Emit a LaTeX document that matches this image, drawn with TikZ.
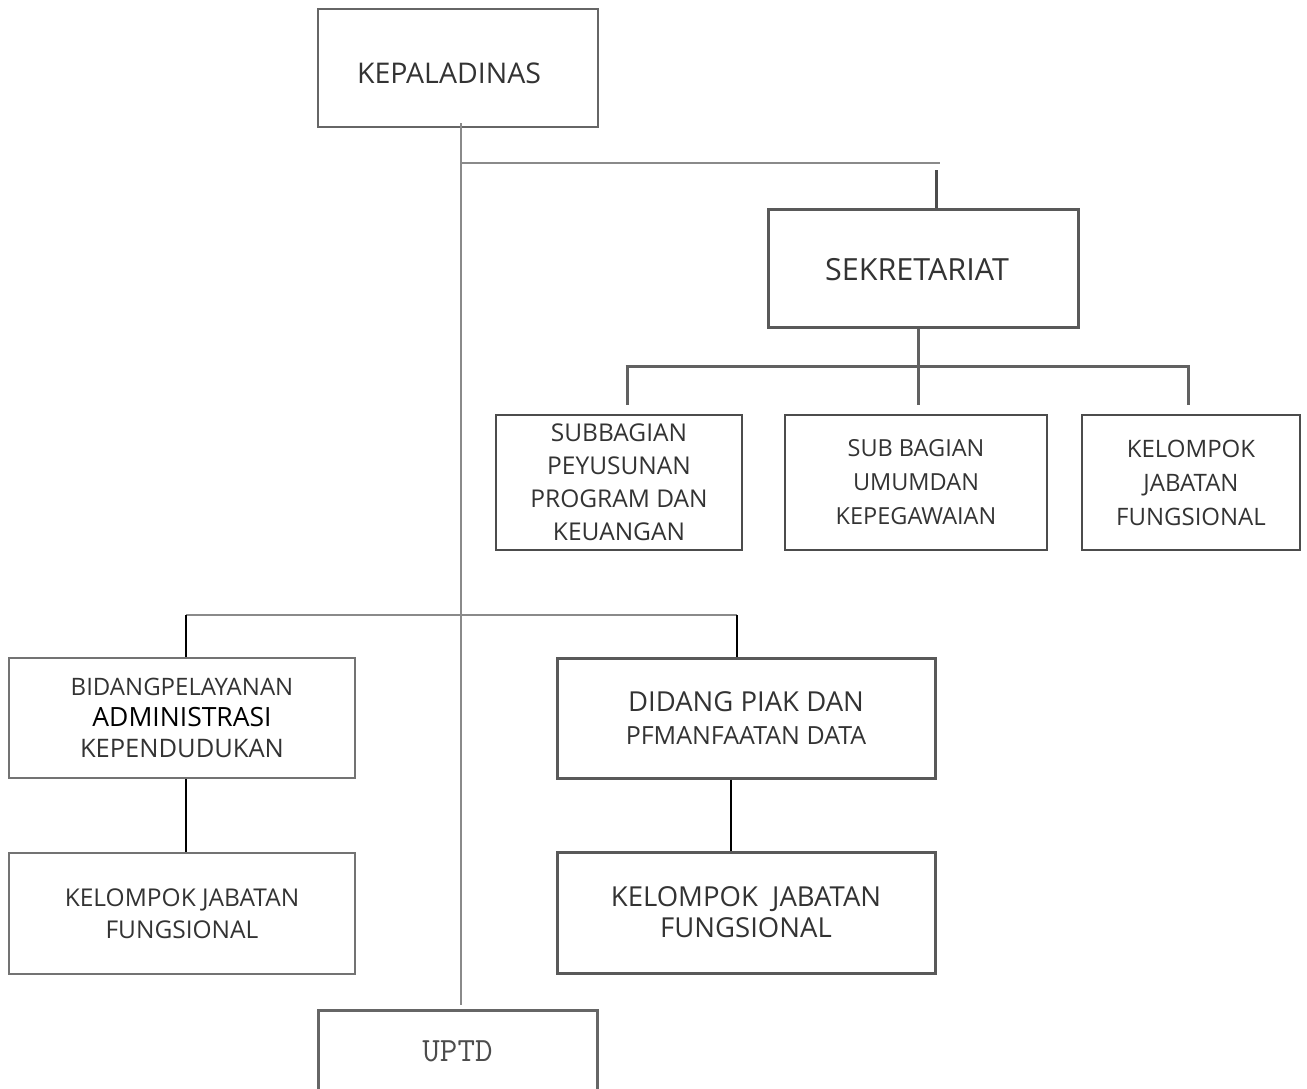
\documentclass[tikz,border=0pt]{standalone}
\usepackage{fontspec}
\setmainfont{Open Sans}
\definecolor{txt}{HTML}{333333}
\definecolor{frame}{HTML}{666666}
\definecolor{spinegray}{HTML}{8A8A8A}
\begin{document}
\begin{tikzpicture}[x=1pt,y=-1pt,
  box/.style={draw=frame, line width=1.5pt, align=center, inner sep=0pt, text=txt},
  heavybox/.style={box, draw=black!65, line width=3pt},
  subbox/.style={box, draw=black!70, line width=2pt},
  spine/.style={draw=spinegray, line width=1.2pt},
  sekline/.style={draw=black!62, line width=3pt},
  darkline/.style={draw=black, line width=1.6pt}
]
\useasboundingbox (0,0) rectangle (1307,1088);

% nodes
\node[box, minimum width=280, minimum height=118, font=\fontsize{28.5}{32}\selectfont] (kepala) at (458,68) {\raisebox{-5pt}[\height][\depth]{KEPALADINAS\hspace{18pt}}};
\node[heavybox, minimum width=310, minimum height=118, font=\fontsize{30.5}{34}\selectfont] (sek) at (923,268) {\raisebox{-2pt}[\height][\depth]{SEKRETARIAT\hspace{12pt}}};

\node[subbox, minimum width=246, minimum height=135, font=\fontsize{24.5}{33}\selectfont] (sb1) at (619,482.5) {SUBBAGIAN\\PEYUSUNAN\\PROGRAM DAN\\KEUANGAN};
\node[subbox, minimum width=262, minimum height=135, font=\fontsize{23.5}{34}\selectfont] (sb2) at (916,482.5) {SUB BAGIAN\\UMUMDAN\\KEPEGAWAIAN};
\node[subbox, minimum width=218, minimum height=135, font=\fontsize{24}{34}\selectfont] (sb3) at (1191,482.5) {KELOMPOK\\JABATAN\\FUNGSIONAL};

\node[box, draw=black!55, minimum width=346, minimum height=120, font=\fontsize{24}{31}\selectfont] (bid) at (182,718) {BIDANGPELAYANAN\\{\color{black}\fontsize{26.5}{31}\selectfont ADMINISTRASI}\\{\fontsize{25.5}{31}\selectfont KEPENDUDUKAN}};
\node[heavybox, minimum width=378, minimum height=120, font=\fontsize{25}{33}\selectfont] (did) at (746,718) {{\fontsize{27.5}{33}\selectfont DIDANG PIAK DAN}\\PFMANFAATAN DATA};

\node[box, draw=black!55, minimum width=346, minimum height=121, font=\fontsize{24.5}{32}\selectfont] (kl) at (182,913.5) {KELOMPOK JABATAN\\FUNGSIONAL};
\node[heavybox, minimum width=378, minimum height=121, font=\fontsize{27.5}{31}\selectfont] (kr) at (746,912.5) {KELOMPOK\ \ JABATAN\\FUNGSIONAL};

\node[heavybox, draw=black!60, minimum width=279, minimum height=82, font=\ttfamily\fontsize{34}{36}\selectfont, text=black!70] (uptd) at (457.5,1051) {UPTD};

% junction coordinates
\coordinate (j1) at (461,163);
\coordinate (j1r) at (940,163);
\coordinate (s1) at (936,170);
\coordinate (j2) at (918,366);
\coordinate (j2l) at (627,366);
\coordinate (j2r) at (1188,366);
\coordinate (j3) at (461,615);
\coordinate (j3l) at (186,615);
\coordinate (j3r) at (737,615);
\coordinate (ktop) at (461,123);
\coordinate (ubot) at (461,1005);

% main spine
\draw[spine] (ktop) -- (ubot);
\draw[spine] (j1) -- (j1r);
\draw[sekline, draw=black!70] (s1) -- (sek.north -| s1);

% sekretariat tree
\draw[sekline] (sek.south -| j2) -- (j2);
\draw[sekline] ([xshift=-1.5pt]j2l) -- ([xshift=1.5pt]j2r);
\draw[sekline] (j2l) -- ([yshift=9pt]sb1.north -| j2l);
\draw[sekline] (j2) -- ([yshift=9pt]sb2.north -| j2);
\draw[sekline] (j2r) -- ([yshift=9pt]sb3.north -| j2r);

% bidang tree
\draw[spine] (j3l) -- (j3r);
\draw[darkline] (j3l) -- (bid.north -| j3l);
\draw[darkline] (j3r) -- (did.north -| j3r);
\draw[darkline] (bid.south -| j3l) -- (kl.north -| j3l);
\draw[darkline, line width=2pt] (did.south -| 731,0) -- (kr.north -| 731,0);
\end{tikzpicture}
\end{document}
